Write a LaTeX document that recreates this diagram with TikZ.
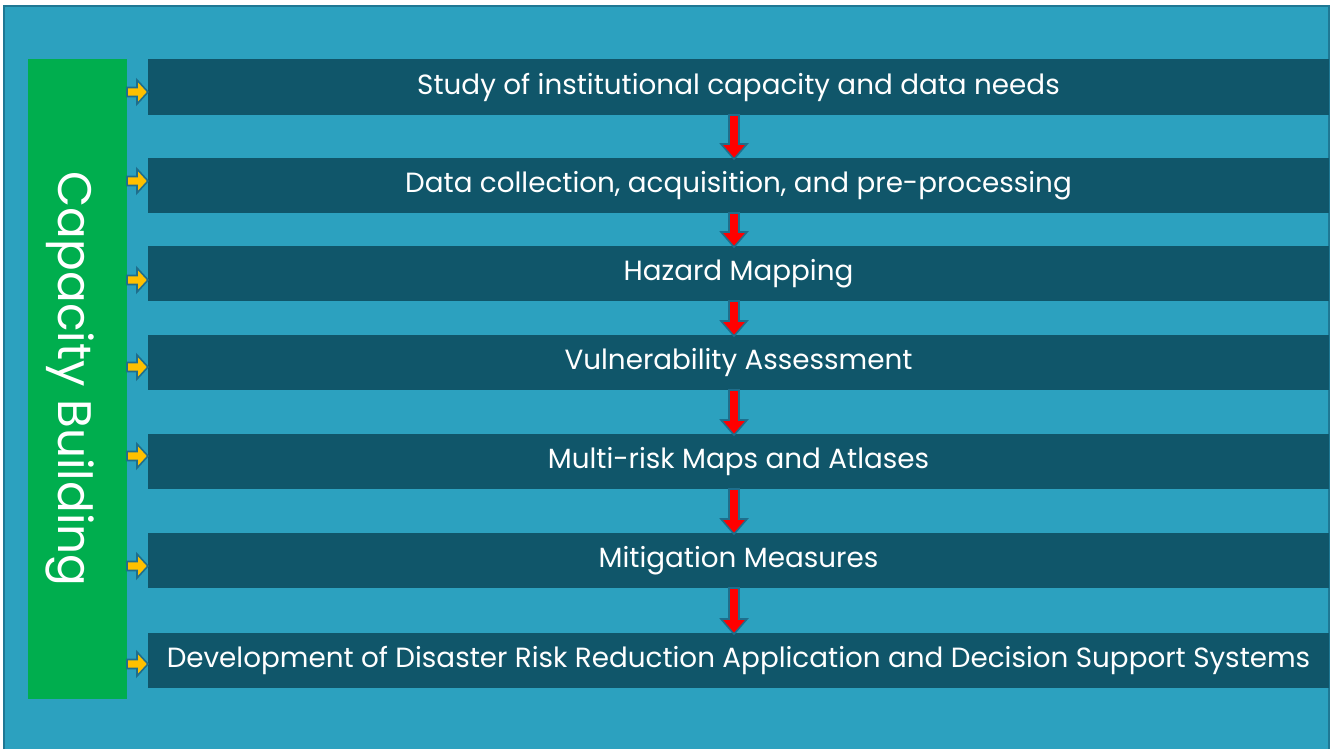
\documentclass[tikz,border=0pt]{standalone}
\usepackage{fontspec}
\setmainfont{Poppins}
\usetikzlibrary{calc}
\definecolor{bgblue}{HTML}{2CA1BF}
\definecolor{bordblue}{HTML}{1F7894}
\definecolor{barcol}{HTML}{10566A}
\definecolor{greencol}{HTML}{00AE4E}
\definecolor{yellowcol}{HTML}{FFC000}
\definecolor{outl}{HTML}{1F6E8C}
\definecolor{redcol}{HTML}{FF0000}
\tikzset{
  barbox/.style={fill=barcol, text=white, minimum width=1181pt, minimum height=55pt, inner sep=0pt, outer sep=0pt, font=\fontsize{27.8}{33}\selectfont},
  greenbox/.style={fill=greencol, minimum width=99pt, minimum height=640pt, inner sep=0pt, outer sep=0pt},
  blockarrow/.style={draw=outl, line width=1.6pt, line join=miter},
}
\newcommand\redblock[2]{%
  \path let \p1=($(#1.south)+(-4.5pt,0pt)$), \p2=(#2.north) in
    [blockarrow, fill=redcol]
    (\x1-5pt,\y1) -- (\x1+5pt,\y1) -- (\x1+5pt,\y2+14pt) -- (\x1+13pt,\y2+14pt) -- (\x1,\y2-1pt) -- (\x1-13pt,\y2+14pt) -- (\x1-5pt,\y2+14pt) -- cycle;}
\newcommand\yellowblock[3]{%
  \path let \p1=(#1.east), \p2=(#2.west) in
    [blockarrow, fill=yellowcol]
    (\x1,#3+4.5) -- (\x1+10,#3+4.5) -- (\x1+10,#3+12) -- (\x2,#3) -- (\x1+10,#3-12) -- (\x1+10,#3-4.5) -- (\x1,#3-4.5) -- cycle;}
\begin{document}
\begin{tikzpicture}[x=1pt,y=-1pt]
\useasboundingbox (0,0) rectangle (1332,749);
\fill[white] (0,0) rectangle (1332,749);
\fill[bgblue] (4,6) rectangle (1329,749);
\draw[bordblue, line width=2pt] (4,749) -- (4,6.5) -- (1329,6.5) -- (1329,749);
\node[greenbox] (cb) at (77.5,379) {};
\node[text=white, rotate=-90, font=\fontsize{47}{56}\selectfont, inner sep=0pt] (cbt) at (70,379) {Capacity Building};
\node[barbox, minimum height=56pt] (b1) at (738.5,87) {Study of institutional capacity and data needs};
\node[barbox] (b2) at (738.5,185.5) {Data collection, acquisition, and pre-processing};
\node[barbox] (b3) at (738.5,273.5) {Hazard Mapping};
\node[barbox] (b4) at (738.5,362.5) {Vulnerability Assessment};
\node[barbox] (b5) at (738.5,461.5) {Multi-risk Maps and Atlases};
\node[barbox] (b6) at (738.5,560.5) {Mitigation Measures};
\node[barbox] (b7) at (738.5,660.5) {Development of Disaster Risk Reduction Application and Decision Support Systems};
\redblock{b1}{b2}
\redblock{b2}{b3}
\redblock{b3}{b4}
\redblock{b4}{b5}
\redblock{b5}{b6}
\redblock{b6}{b7}
\yellowblock{cb}{b1}{92}
\yellowblock{cb}{b2}{181}
\yellowblock{cb}{b3}{280}
\yellowblock{cb}{b4}{367}
\yellowblock{cb}{b5}{456}
\yellowblock{cb}{b6}{566}
\yellowblock{cb}{b7}{664}
\end{tikzpicture}
\end{document}
